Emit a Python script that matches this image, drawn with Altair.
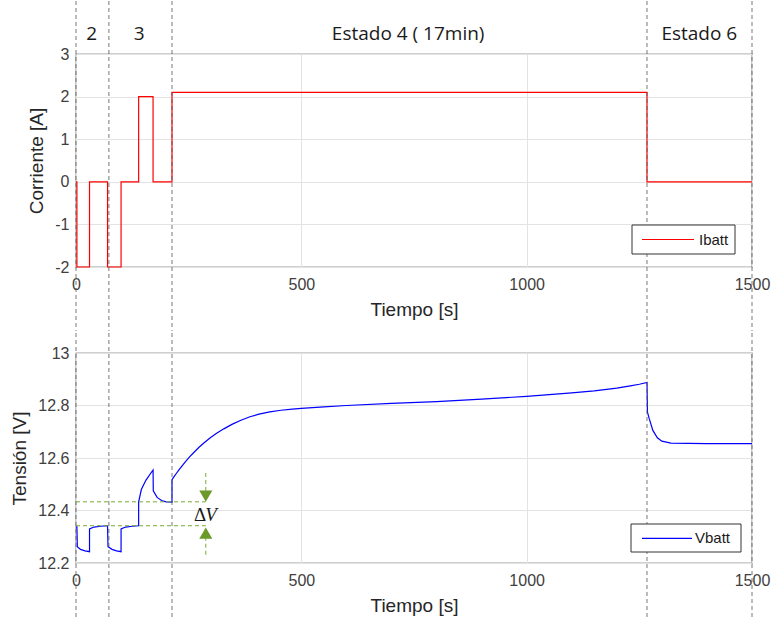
import altair as alt
import pandas as pd

# ---------------- data ----------------
# Current (A) vs time (s)
t_i = [0, 2, 2, 30, 30, 70, 70, 100, 100, 139, 139, 171, 171, 213, 213, 1267, 1267, 1500]
i_batt = [0, 0, -2, -2, 0, 0, -2, -2, 0, 0, 2, 2, 0, 0, 2.1, 2.1, 0, 0]

# Voltage (V) vs time (s)
t_v = [0, 2, 3, 10, 20, 30, 30, 40, 55, 70, 71, 80, 90, 100, 100, 110, 125, 139,
       139, 145, 155, 165, 171, 171.5, 180, 190, 200, 213,
       213, 218, 223, 228, 235, 243, 252, 262, 273, 285, 298, 312, 328, 347, 366, 386,
       406, 430, 455, 480, 500, 550, 600, 700, 800, 900, 1000, 1100, 1150, 1200, 1230,
       1250, 1267,
       1268, 1272, 1280, 1290, 1300, 1320, 1400, 1500]
v_batt = [12.338, 12.338, 12.262, 12.252, 12.246, 12.243, 12.330, 12.337, 12.340, 12.342,
          12.262, 12.252, 12.246, 12.243, 12.330, 12.337, 12.340, 12.342,
          12.433, 12.480, 12.515, 12.540, 12.554, 12.475, 12.450, 12.438, 12.433, 12.432,
          12.517, 12.530, 12.542, 12.554, 12.569, 12.586, 12.604, 12.622, 12.641, 12.659,
          12.677, 12.694, 12.711, 12.729, 12.744, 12.757,
          12.767, 12.776, 12.782, 12.786, 12.789, 12.795, 12.800, 12.808, 12.815, 12.824,
          12.835, 12.848, 12.856, 12.866, 12.875,
          12.881, 12.888,
          12.775, 12.750, 12.705, 12.677, 12.664, 12.657, 12.655, 12.655]

# State boundaries (s)
state_lines = [0, 73, 213, 1267, 1500]
state_labels = ["2", "3", "Estado 4 ( 17min)", "Estado 6"]
state_label_t = [35, 140, 737, 1383]

# Delta V annotation
dv_levels = [12.433, 12.342]
dv_t = 288

x_ticks = [0, 500, 1000, 1500]
i_ticks = [-2, -1, 0, 1, 2, 3]
v_ticks = [12.2, 12.4, 12.6, 12.8, 13.0]

# ---------------- frames ----------------
df_i = pd.DataFrame({"t": t_i, "I": i_batt, "k": range(len(t_i))})
df_v = pd.DataFrame({"t": t_v, "V": v_batt, "k": range(len(t_v))})
df_states = pd.DataFrame({"t": state_lines})
df_lab = pd.DataFrame({"t": state_label_t, "txt": state_labels})
df_dv = pd.DataFrame({"t0": [0, 0], "t1": [dv_t, dv_t], "V": dv_levels})
df_dv_vert = pd.DataFrame({"t": [dv_t, dv_t], "v0": [12.543, 12.300], "v1": [12.470, 12.229]})
df_tri = pd.DataFrame({"t": [dv_t, dv_t], "V": [12.455, 12.314], "s": ["triangle-down", "triangle-up"]})
df_dvtxt = pd.DataFrame({"t": [287], "V": [12.383]})

W = 676
H1 = 213
H2 = 210

FONT = "Liberation Sans"
ANN_FONT = "Open Sans"
GREEN = "#77AC30"
GREEN_DARK = "#6a9a28"

x_scale = alt.Scale(domain=[0, 1500], nice=False, zero=False)


def x_enc(title):
    return alt.X("t:Q", scale=x_scale,
                 axis=alt.Axis(values=x_ticks, title=title, labelFlush=False,
                               labelExpr="'' + datum.value"))


# ---------------- top panel ----------------
line_i = alt.Chart(df_i).mark_line(color="#ff0000", strokeWidth=1.2).encode(
    x=x_enc("Tiempo [s]"),
    y=alt.Y("I:Q", scale=alt.Scale(domain=[-2, 3], nice=False),
            axis=alt.Axis(values=i_ticks, title="Corriente [A]", labelExpr="'' + datum.value")),
    order="k:Q",
)

rules_top = alt.Chart(df_states).mark_rule(color="#555555", strokeDash=[4, 3], strokeWidth=0.8).encode(
    x=alt.X("t:Q", scale=x_scale),
    y=alt.value(-53),
    y2=alt.value(H1 + 64),
)

labels_top = alt.Chart(df_lab).mark_text(font=ANN_FONT, fontSize=19, color="#1a1a1a",
                                         baseline="middle", align="center").encode(
    x=alt.X("t:Q", scale=x_scale),
    y=alt.value(-20),
    text="txt:N",
)

leg1_box = alt.Chart(pd.DataFrame({"a": [0]})).mark_rect(fill="white", stroke="#333333", strokeWidth=1).encode(
    x=alt.value(556), x2=alt.value(659), y=alt.value(171), y2=alt.value(200))
leg1_line = alt.Chart(pd.DataFrame({"a": [0]})).mark_rule(color="#ff0000", strokeWidth=1.2).encode(
    x=alt.value(566), x2=alt.value(618), y=alt.value(185.5))
leg1_txt = alt.Chart(pd.DataFrame({"txt": ["Ibatt"]})).mark_text(
    font=FONT, fontSize=15, align="left", baseline="middle", color="#1a1a1a").encode(
    x=alt.value(623), y=alt.value(185.5), text="txt:N")

top = alt.layer(line_i, rules_top, labels_top, leg1_box, leg1_line, leg1_txt).properties(width=W, height=H1)

# ---------------- bottom panel ----------------
v_scale = alt.Scale(domain=[12.2, 13], nice=False, zero=False)

line_v = alt.Chart(df_v).mark_line(color="#0000ff", strokeWidth=1.2).encode(
    x=x_enc("Tiempo [s]"),
    y=alt.Y("V:Q", scale=v_scale,
            axis=alt.Axis(values=v_ticks, title="Tensión [V]", labelExpr="'' + datum.value")),
    order="k:Q",
)

rules_bot = alt.Chart(df_states).mark_rule(color="#555555", strokeDash=[4, 3], strokeWidth=0.8).encode(
    x=alt.X("t:Q", scale=x_scale),
    y=alt.value(-20),
    y2=alt.value(H2 + 57),
)

dv_h = alt.Chart(df_dv).mark_rule(color=GREEN, strokeDash=[4, 3], strokeWidth=1).encode(
    x=alt.X("t0:Q", scale=x_scale), x2="t1:Q", y=alt.Y("V:Q", scale=v_scale))
dv_v = alt.Chart(df_dv_vert).mark_rule(color=GREEN, strokeDash=[4, 3], strokeWidth=1).encode(
    x=alt.X("t:Q", scale=x_scale), y=alt.Y("v0:Q", scale=v_scale), y2="v1:Q")
dv_tri = alt.Chart(df_tri).mark_point(filled=True, color=GREEN_DARK, opacity=1, size=170).encode(
    x=alt.X("t:Q", scale=x_scale), y=alt.Y("V:Q", scale=v_scale),
    shape=alt.Shape("s:N", scale=None))
dv_delta = alt.Chart(df_dvtxt).mark_text(font="Liberation Serif", fontSize=19, text="Δ",
                                         color="#1a1a1a", align="right", baseline="middle", dx=1).encode(
    x=alt.X("t:Q", scale=x_scale), y=alt.Y("V:Q", scale=v_scale))
dv_v_txt = alt.Chart(df_dvtxt).mark_text(font="Liberation Serif", fontStyle="italic", fontSize=19, text="V",
                                         color="#1a1a1a", align="left", baseline="middle", dx=0).encode(
    x=alt.X("t:Q", scale=x_scale), y=alt.Y("V:Q", scale=v_scale))

leg2_box = alt.Chart(pd.DataFrame({"a": [0]})).mark_rect(fill="white", stroke="#333333", strokeWidth=1).encode(
    x=alt.value(555), x2=alt.value(665), y=alt.value(171), y2=alt.value(199))
leg2_line = alt.Chart(pd.DataFrame({"a": [0]})).mark_rule(color="#0000ff", strokeWidth=1.2).encode(
    x=alt.value(566), x2=alt.value(616), y=alt.value(185.3))
leg2_txt = alt.Chart(pd.DataFrame({"txt": ["Vbatt"]})).mark_text(
    font=FONT, fontSize=15, align="left", baseline="middle", color="#1a1a1a").encode(
    x=alt.value(619), y=alt.value(185.3), text="txt:N")

bottom = alt.layer(line_v, rules_bot, dv_h, dv_v, dv_tri, dv_delta, dv_v_txt,
                   leg2_box, leg2_line, leg2_txt).properties(width=W, height=H2)

chart = alt.vconcat(top, bottom, spacing=0).properties(
    padding={"left": 10, "top": 0, "right": 4, "bottom": 0},
    background="white",
).configure_view(
    stroke="#404040", strokeWidth=1.2
).configure_axis(
    labelFont=FONT, titleFont=FONT, labelFontSize=16, titleFontSize=19,
    labelColor="#404040", titleColor="#262626", titleFontWeight="normal",
    grid=True, gridColor="#e3e3e3", gridWidth=1,
    domain=False, ticks=False, labelPadding=7,
).configure_axisX(
    labelPadding=9, titlePadding=8,
).configure_axisY(
    titlePadding=8,
)

chart.save("out.html", embed_options={"renderer": "svg", "actions": False})
